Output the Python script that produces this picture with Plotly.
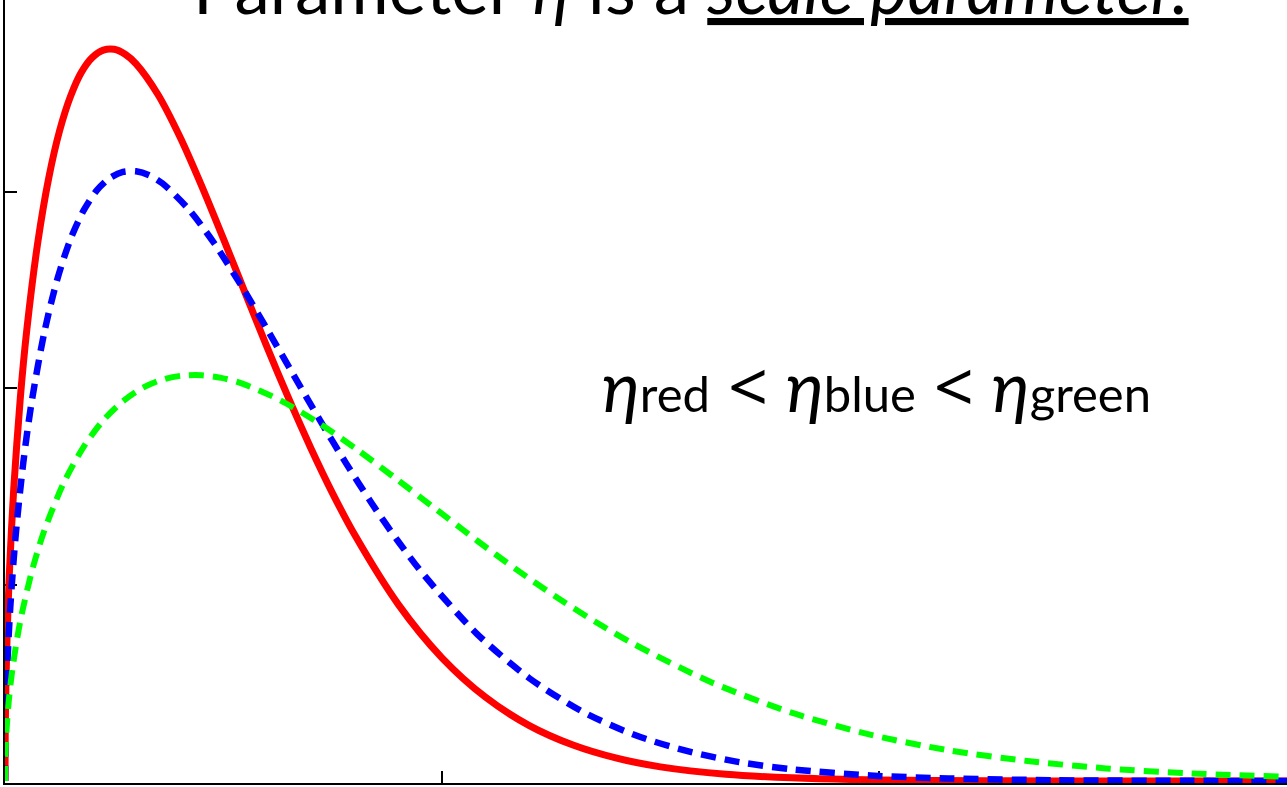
import plotly.graph_objects as go

# Weibull probability density curves, same shape, three scale parameters.
# Values are read at chosen time points (x) for each curve.
red_x = [0, 0.0005, 0.002, 0.005, 0.01, 0.02, 0.035, 0.05, 0.075, 0.1, 0.125, 0.15,
         0.175, 0.2, 0.225, 0.25, 0.275, 0.3, 0.35, 0.4, 0.45, 0.5, 0.55, 0.6, 0.65,
         0.7, 0.75, 0.8, 0.9, 1.0, 1.1, 1.2, 1.3, 1.4, 1.5, 1.65, 1.8, 2.0, 2.25, 2.5, 2.95]
red_y = [0, 0.237, 0.474, 0.749, 1.058, 1.488, 1.948, 2.298, 2.741, 3.068, 3.310, 3.485,
         3.608, 3.683, 3.720, 3.724, 3.699, 3.650, 3.494, 3.280, 3.029, 2.759, 2.482, 2.207,
         1.943, 1.694, 1.463, 1.254, 0.899, 0.627, 0.426, 0.282, 0.183, 0.116, 0.072, 0.034,
         0.016, 0.005, 0.001, 0.0, 0.0]

blue_x = [0, 0.0006, 0.0024, 0.006, 0.012, 0.024, 0.042, 0.06, 0.09, 0.12, 0.15, 0.18,
          0.21, 0.24, 0.27, 0.3, 0.33, 0.36, 0.42, 0.48, 0.54, 0.6, 0.66, 0.72, 0.78, 0.84,
          0.9, 0.96, 1.08, 1.2, 1.32, 1.44, 1.56, 1.68, 1.8, 1.98, 2.16, 2.4, 2.7, 2.95]
blue_y = [0, 0.198, 0.395, 0.624, 0.881, 1.240, 1.623, 1.915, 2.284, 2.556, 2.758, 2.904,
          3.006, 3.069, 3.100, 3.103, 3.083, 3.042, 2.911, 2.733, 2.524, 2.299, 2.068, 1.839,
          1.619, 1.411, 1.219, 1.045, 0.749, 0.523, 0.355, 0.235, 0.153, 0.096, 0.060, 0.028,
          0.013, 0.004, 0.001, 0.0]

green_x = [0, 0.0009, 0.0036, 0.009, 0.018, 0.036, 0.063, 0.09, 0.135, 0.18, 0.225, 0.27,
           0.315, 0.36, 0.405, 0.45, 0.495, 0.54, 0.63, 0.72, 0.81, 0.9, 0.99, 1.08, 1.17,
           1.26, 1.35, 1.44, 1.62, 1.8, 1.98, 2.16, 2.34, 2.52, 2.7, 2.97]
green_y = [0, 0.131, 0.263, 0.416, 0.587, 0.825, 1.080, 1.275, 1.520, 1.701, 1.836, 1.933,
           2.001, 2.043, 2.063, 2.065, 2.052, 2.025, 1.938, 1.819, 1.680, 1.530, 1.377, 1.224,
           1.077, 0.939, 0.812, 0.696, 0.499, 0.348, 0.236, 0.156, 0.102, 0.064, 0.040, 0.019]

x_ticks = [1, 2]
y_ticks = [1, 2, 3]

fig = go.Figure()
fig.add_trace(go.Scatter(x=red_x, y=red_y, mode="lines",
                         line=dict(color="#ff0000", width=7, shape="spline", smoothing=0.8)))
fig.add_trace(go.Scatter(x=blue_x, y=blue_y, mode="lines",
                         line=dict(color="#0000ff", width=6.5, dash="15px,9px",
                                   shape="spline", smoothing=0.8)))
fig.add_trace(go.Scatter(x=green_x, y=green_y, mode="lines",
                         line=dict(color="#00ff00", width=6, dash="15px,9px",
                                   shape="spline", smoothing=0.8)))

axis_style = dict(showgrid=False, zeroline=False, showline=True, linecolor="black",
                  linewidth=2, ticks="inside", ticklen=12, tickwidth=2, tickcolor="black",
                  showticklabels=False, layer="below traces", fixedrange=True)

sub = "<span style='font-size:49px'>{}</span>"
less = "<span style=\"font-family:'Noto Sans'\">&lt;</span>"

fig.update_layout(
    width=1287, height=787,
    margin=dict(l=5, r=0, t=0, b=4, pad=0),
    paper_bgcolor="white", plot_bgcolor="white",
    showlegend=False,
    xaxis=dict(range=[0, 2.934], tickvals=x_ticks, **axis_style),
    yaxis=dict(range=[-0.0102, 3.975], tickvals=y_ticks, **axis_style),
    annotations=[
        dict(xref="paper", yref="paper", x=0.535, y=1.017, xanchor="center", yanchor="middle",
             showarrow=False,
             text="Parameter <i>η</i> is a <u><i>scale parameter.</i></u>",
             font=dict(family="Lato, 'Noto Sans', sans-serif", size=71, color="black")),
        dict(xref="paper", yref="paper", x=0.6795, y=0.508, xanchor="center", yanchor="middle",
             showarrow=False,
             text=("<i>η</i>" + sub.format("red") + " " + less + " "
                   "<i>η</i>" + sub.format("blue") + " " + less + " "
                   "<i>η</i>" + sub.format("green")),
             font=dict(family="Lato, 'Noto Sans', sans-serif", size=70, color="black")),
    ],
)

fig.write_html("out.html")
